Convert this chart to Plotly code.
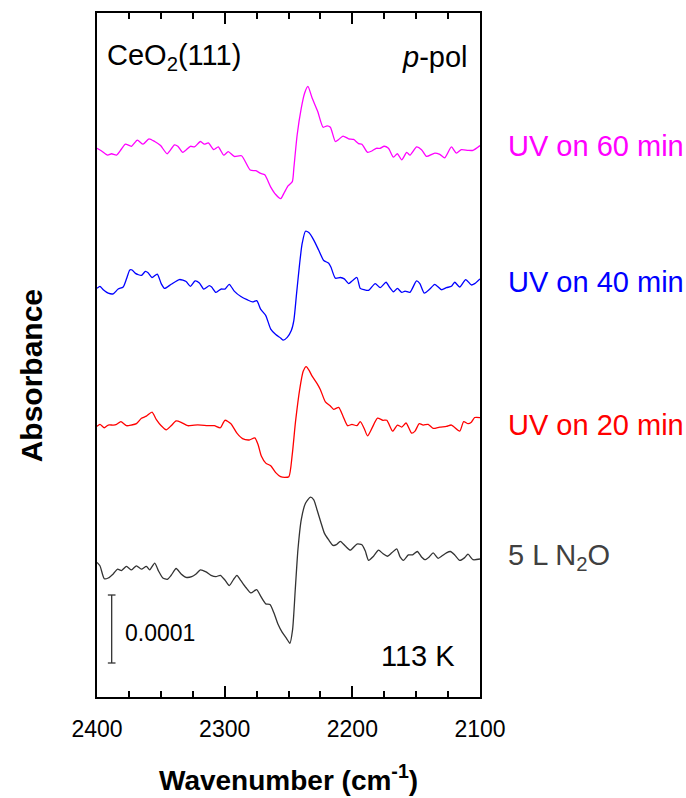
import plotly.graph_objects as go

# ---------------- data (absorbance in units of 1e-4, relative to each baseline) -------------
wn_60 = [2400, 2396.4, 2391.7, 2388.6, 2384.7, 2380.8, 2377.7, 2373.0, 2368.4, 2363.9,
         2359.3, 2354.8, 2350.2, 2345.0, 2339.3, 2336.7, 2332.8, 2326.8, 2323.7, 2319.0,
         2315.9, 2312.8, 2308.6, 2305.0, 2300.8, 2297.2, 2292.5, 2286.8, 2280.0, 2275.6,
         2271.7, 2268.6, 2263.9, 2260.0, 2256.1, 2253.0, 2250.2, 2247.0, 2245.8, 2243.2,
         2240.0, 2237.4, 2234.8, 2231.5, 2227.1, 2222.9, 2219.8, 2217.2, 2213.3, 2210.7,
         2207.3, 2202.9, 2199.0, 2195.1, 2192.5, 2188.1, 2184.7, 2181.3, 2178.2, 2175.1,
         2171.7, 2167.8, 2164.7, 2161.3, 2157.4, 2154.8, 2149.6, 2145.8, 2141.9, 2135.4,
         2131.5, 2127.6, 2122.4, 2118.5, 2114.6, 2109.4, 2105.5, 2100]
abs_60 = [0.00, -0.04, -0.10, -0.08, -0.10, -0.01, 0.06, 0.03, 0.12, 0.06,
          0.14, 0.10, 0.04, -0.08, 0.05, 0.03, -0.06, 0.03, 0.02, 0.10,
          0.06, 0.08, -0.02, 0.02, -0.10, -0.05, -0.12, -0.11, -0.32, -0.33,
          -0.37, -0.39, -0.57, -0.68, -0.74, -0.64, -0.55, -0.49, -0.29, 0.20,
          0.59, 0.81, 0.91, 0.74, 0.54, 0.31, 0.33, 0.31, 0.10, 0.13,
          0.18, 0.14, 0.13, 0.07, 0.06, -0.06, -0.04, 0.00, 0.00, 0.03,
          0.00, -0.13, -0.08, -0.17, -0.06, -0.10, 0.02, -0.02, -0.12, -0.07,
          -0.09, -0.14, 0.02, -0.07, -0.02, -0.03, -0.03, 0.04]

wn_40 = [2400, 2397.7, 2395.1, 2391.2, 2387.3, 2383.4, 2379.5, 2376.9, 2374.3, 2372.5,
         2369.9, 2365.2, 2362.1, 2360.0, 2356.9, 2352.8, 2349.7, 2347.1, 2341.9, 2335.4,
         2330.2, 2326.8, 2323.2, 2319.8, 2316.4, 2312.0, 2310.2, 2306.8, 2302.9, 2299.8,
         2296.4, 2292.5, 2287.3, 2282.1, 2278.2, 2274.9, 2271.7, 2267.8, 2263.9, 2260.0,
         2256.2, 2254.1, 2251.0, 2247.8, 2245.8, 2243.7, 2241.3, 2239.3, 2236.7, 2234.1,
         2230.2, 2226.3, 2222.4, 2218.5, 2216.7, 2213.3, 2209.4, 2206.3, 2202.9, 2199.5,
         2196.4, 2193.8, 2190.7, 2187.3, 2182.1, 2178.2, 2173.6, 2171.0, 2167.8, 2164.7,
         2161.3, 2158.7, 2154.9, 2149.7, 2147.1, 2143.7, 2139.3, 2135.4, 2130.2, 2126.3,
         2122.4, 2119.8, 2115.9, 2111.2, 2106.8, 2104.2, 2100]
abs_40 = [0.00, 0.03, -0.02, -0.07, -0.08, -0.01, 0.02, 0.14, 0.27, 0.27,
          0.22, 0.19, 0.25, 0.23, 0.16, 0.21, 0.07, 0.00, 0.06, 0.13,
          0.10, 0.03, 0.11, 0.08, -0.01, 0.04, 0.02, -0.06, -0.01, -0.01,
          0.06, -0.04, -0.12, -0.17, -0.20, -0.18, -0.31, -0.40, -0.60, -0.68,
          -0.73, -0.76, -0.72, -0.62, -0.47, -0.08, 0.36, 0.66, 0.84, 0.82,
          0.71, 0.56, 0.41, 0.37, 0.31, 0.15, 0.16, 0.14, 0.07, 0.12,
          0.16, 0.00, -0.02, -0.03, 0.07, 0.01, 0.09, 0.02, -0.05, 0.00,
          -0.06, -0.04, -0.06, 0.11, 0.07, -0.07, -0.01, 0.06, -0.02, 0.01,
          0.03, 0.09, 0.02, 0.13, 0.05, 0.07, 0.14]

wn_20 = [2400, 2397.7, 2394.3, 2391.2, 2387.3, 2384.7, 2381.3, 2376.9, 2373.0, 2369.1,
         2365.2, 2361.3, 2356.9, 2353.5, 2349.7, 2345.8, 2341.9, 2338.0, 2334.1, 2328.9,
         2323.7, 2318.5, 2313.3, 2308.1, 2303.4, 2299.8, 2295.1, 2290.4, 2286.0, 2280.8,
         2276.4, 2273.8, 2271.2, 2267.8, 2263.9, 2260.0, 2256.2, 2253.0, 2249.7, 2247.1,
         2244.5, 2241.1, 2238.5, 2236.1, 2234.1, 2231.5, 2227.6, 2225.0, 2221.1, 2217.2,
         2214.6, 2210.7, 2207.3, 2203.7, 2200.3, 2196.4, 2193.8, 2190.7, 2188.1, 2184.7,
         2180.3, 2176.1, 2173.0, 2168.4, 2164.7, 2161.3, 2157.9, 2153.5, 2150.9, 2147.6,
         2144.5, 2140.6, 2136.7, 2131.5, 2126.3, 2122.4, 2115.9, 2112.8, 2109.4, 2106.8,
         2104.2, 2100]
abs_20 = [0.00, 0.03, -0.02, 0.02, 0.02, 0.03, 0.07, 0.01, 0.02, 0.04,
          0.12, 0.15, 0.21, 0.10, 0.01, -0.05, 0.01, 0.08, 0.06, 0.01,
          0.02, 0.02, 0.01, 0.01, -0.02, 0.09, 0.04, -0.10, -0.18, -0.20,
          -0.17, -0.27, -0.44, -0.54, -0.58, -0.68, -0.74, -0.75, -0.74, -0.42,
          0.07, 0.56, 0.81, 0.88, 0.83, 0.74, 0.63, 0.54, 0.36, 0.30,
          0.25, 0.28, 0.15, 0.01, 0.03, 0.01, 0.07, -0.03, -0.14, -0.03,
          0.12, 0.09, 0.09, -0.07, 0.02, -0.01, 0.05, -0.10, -0.07, 0.04,
          0.02, 0.03, -0.03, -0.01, 0.00, 0.02, -0.07, 0.07, 0.04, 0.06,
          0.13, 0.13]

wn_n2o = [2400, 2397.7, 2394.3, 2391.2, 2387.3, 2383.9, 2380.8, 2376.9, 2373.0, 2369.1,
          2365.2, 2361.3, 2358.7, 2354.8, 2351.7, 2348.4, 2345.0, 2341.9, 2338.0, 2334.1,
          2330.2, 2325.8, 2322.4, 2319.0, 2314.6, 2310.7, 2306.8, 2303.4, 2299.8, 2296.4,
          2293.0, 2290.4, 2287.3, 2283.4, 2279.5, 2274.9, 2271.7, 2267.8, 2264.5, 2261.3,
          2258.2, 2254.9, 2251.5, 2248.9, 2246.8, 2244.7, 2242.6, 2240.0, 2236.7, 2232.8,
          2230.2, 2227.6, 2224.5, 2221.9, 2218.5, 2215.1, 2212.5, 2209.4, 2205.5, 2201.6,
          2196.4, 2192.5, 2189.9, 2187.3, 2183.4, 2179.5, 2176.1, 2172.5, 2169.1, 2165.2,
          2162.6, 2160.0, 2156.1, 2152.8, 2149.1, 2145.8, 2143.2, 2139.8, 2136.7, 2132.8,
          2129.4, 2126.3, 2123.2, 2119.8, 2115.9, 2112.0, 2109.4, 2105.5, 2100]
abs_n2o = [0.00, -0.05, -0.24, -0.23, -0.17, -0.10, -0.12, -0.06, -0.11, -0.05,
           -0.10, -0.06, -0.11, -0.01, -0.13, -0.23, -0.25, -0.19, -0.09, -0.17,
           -0.22, -0.21, -0.17, -0.11, -0.14, -0.19, -0.21, -0.19, -0.26, -0.34,
           -0.25, -0.19, -0.27, -0.37, -0.45, -0.40, -0.50, -0.61, -0.62, -0.75,
           -0.91, -1.03, -1.12, -1.19, -0.99, -0.40, 0.19, 0.63, 0.87, 0.96,
           0.92, 0.77, 0.58, 0.43, 0.33, 0.25, 0.26, 0.31, 0.24, 0.18,
           0.27, 0.26, 0.17, 0.03, 0.09, 0.18, 0.13, 0.09, 0.14, 0.20,
           0.08, 0.03, 0.11, 0.11, 0.16, 0.08, 0.04, 0.08, 0.14, 0.06,
           0.10, 0.14, 0.16, 0.11, 0.03, 0.07, 0.12, 0.04, 0.05]

labels = ["UV on 60 min", "UV on 40 min", "UV on 20 min", "5 L N<sub>2</sub>O"]
offsets = [8.07, 6.01, 3.98, 1.98]          # vertical stacking offsets (1e-4)
colors = ["#FF00FF", "#0000FF", "#FF0000", "#333333"]
label_colors = ["#FF00FF", "#0000FF", "#FF0000", "#404040"]
x_ticks = [2400, 2300, 2200, 2100]
scale_bar = 1.0   # 0.0001 absorbance

series = [(wn_60, abs_60), (wn_40, abs_40), (wn_20, abs_20), (wn_n2o, abs_n2o)]

FONT = "Liberation Sans, Arial, sans-serif"
fig = go.Figure()
for (wn, ab), off, c in zip(series, offsets, colors):
    fig.add_trace(go.Scatter(
        x=wn, y=[(v + off) * 1e-4 for v in ab], mode="lines",
        line=dict(color=c, width=1.3, shape="spline", smoothing=0.6),
        showlegend=False, hoverinfo="skip"))

label_y = [0.8056, 0.6067, 0.3977, 0.2047]
anns = []
for t, c, yy in zip(labels, label_colors, label_y):
    anns.append(dict(text=t, x=1.068, y=yy, xref="paper", yref="paper",
                     xanchor="left", yanchor="middle", showarrow=False,
                     font=dict(size=29, color=c, family=FONT)))

anns += [
    dict(text="CeO<sub>2</sub>(111)", x=0.021, y=0.936, xref="paper", yref="paper",
         xanchor="left", yanchor="middle", showarrow=False,
         font=dict(size=29, color="black", family=FONT)),
    dict(text="<i>p</i>-pol", x=0.974, y=0.935, xref="paper", yref="paper",
         xanchor="right", yanchor="middle", showarrow=False,
         font=dict(size=29, color="black", family=FONT)),
    dict(text="113 K", x=0.940, y=0.060, xref="paper", yref="paper",
         xanchor="right", yanchor="middle", showarrow=False,
         font=dict(size=29, color="black", family=FONT)),
    dict(text="0.0001", x=0.068, y=0.094, xref="paper", yref="paper",
         xanchor="left", yanchor="middle", showarrow=False,
         font=dict(size=23, color="black", family=FONT)),
    dict(text="<b>Absorbance</b>", x=-0.172, y=0.469, xref="paper", yref="paper",
         xanchor="center", yanchor="middle", textangle=-90, showarrow=False,
         font=dict(size=30, color="black", family=FONT)),
    dict(text="<b>Wavenumber (cm<sup>-1</sup>)</b>", x=0.5, y=-0.118, xref="paper", yref="paper",
         xanchor="center", yanchor="middle", showarrow=False,
         font=dict(size=28, color="black", family=FONT)),
]

bx, bcap, by0 = 2388.5, 3.0, 0.5
shapes = [
    dict(type="line", xref="x", yref="y", x0=bx, x1=bx, y0=by0 * 1e-4, y1=(by0 + scale_bar) * 1e-4,
         line=dict(color="#333333", width=1.3)),
    dict(type="line", xref="x", yref="y", x0=bx - bcap, x1=bx + bcap, y0=by0 * 1e-4, y1=by0 * 1e-4,
         line=dict(color="#333333", width=1.3)),
    dict(type="line", xref="x", yref="y", x0=bx - bcap, x1=bx + bcap,
         y0=(by0 + scale_bar) * 1e-4, y1=(by0 + scale_bar) * 1e-4,
         line=dict(color="#333333", width=1.3)),
]

fig.update_layout(
    width=686, height=798,
    margin=dict(l=97, r=206, t=13, b=101),
    paper_bgcolor="white", plot_bgcolor="white",
    annotations=anns, shapes=shapes,
    font=dict(family=FONT, color="black"),
)
fig.update_xaxes(
    range=[2400, 2100], tickvals=x_ticks, ticktext=[str(v) for v in x_ticks],
    ticks="inside", ticklen=11, tickwidth=2, tickcolor="black",
    minor=dict(ticks="inside", dtick=25, tick0=2100, ticklen=6, tickwidth=2, tickcolor="black"),
    showline=True, linewidth=2, linecolor="black", mirror="ticks",
    showgrid=False, zeroline=False, ticklabelstandoff=10,
    tickfont=dict(size=23, family=FONT, color="black"),
)
fig.update_yaxes(
    range=[0, 10.06e-4], showticklabels=False, ticks="",
    showline=True, linewidth=2, linecolor="black", mirror=True,
    showgrid=False, zeroline=False,
)

fig.write_html("out.html", config={"displayModeBar": False},
               post_script="document.body.style.margin='0';document.body.style.overflow='hidden';")
